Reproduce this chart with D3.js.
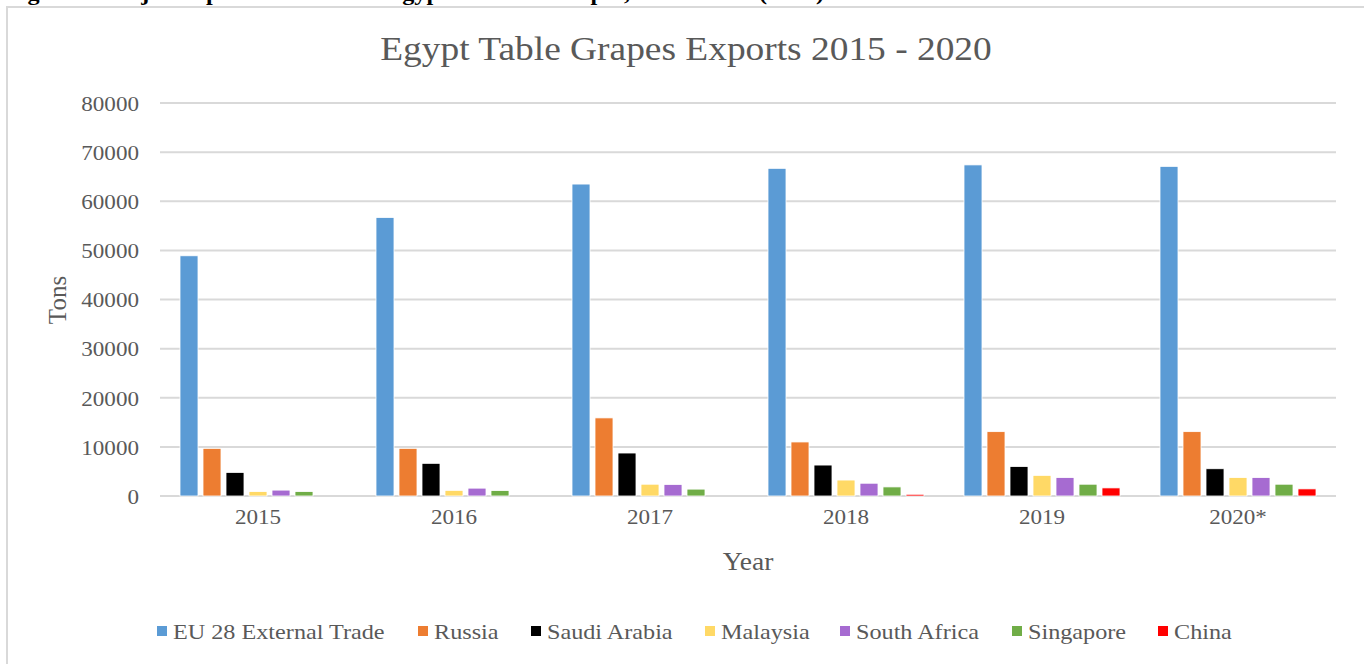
<!doctype html>
<html lang="en">
    <head>
        <meta charset="utf-8">
        <title>Egypt Table Grapes Exports</title>
        <script src="https://cdn.jsdelivr.net/npm/d3@7"></script>
        <style>
            body { margin: 0; background: #fff; }
            text { font-family: "Liberation Serif", "Times New Roman", serif; fill: #595959; }
        </style>
    </head>
    <body>
        <script>
            // data (tons)
            var years = ["2015", "2016", "2017", "2018", "2019", "2020*"];
            var markets = ["EU 28 External Trade", "Russia", "Saudi Arabia", "Malaysia", "South Africa", "Singapore", "China"];
            var colors = ["#5b9bd5", "#ed7d31", "#000000", "#ffd966", "#a66bd1", "#70ad47", "#ff0000"];

            var euTrade     = [48900, 56700, 63500, 66700, 67400, 67100];
            var russia      = [9700, 9700, 15900, 11000, 13100, 13100];
            var saudiArabia = [4800, 6650, 8750, 6300, 6000, 5550];
            var malaysia    = [900, 1150, 2400, 3250, 4200, 3750];
            var southAfrica = [1200, 1600, 2350, 2600, 3750, 3750];
            var singapore   = [900, 1100, 1400, 1850, 2400, 2400];
            var china       = [0, 0, 0, 350, 1650, 1450];
            var yTicks = [0, 10000, 20000, 30000, 40000, 50000, 60000, 70000, 80000];

            var seriesValues = [euTrade, russia, saudiArabia, malaysia, southAfrica, singapore, china];

            var svgW = 1364, svgH = 664;
            var plot = {left: 160, right: 1336, top: 103, bottom: 496};
            var stretch = "scale(1.1,1)"; // the source picture is a bit wider than tall

            var svg = d3.select("body")
                        .append("svg")
                        .attr("width", svgW)
                        .attr("height", svgH);

            // caption of the page, cut by the top edge like in the picture
            svg.append("text")
               .attr("transform", "translate(6,0) " + stretch)
               .style("font-weight", "bold")
               .style("font-size", "22px")
               .style("fill", "#000")
               .text("Figure 3: Major Export Markets for Egyptian Table Grapes, 2015 - 2020 (Tons)");

            // chart frame
            svg.append("rect")
               .attr("x", 7)
               .attr("y", 7)
               .attr("width", 1400)
               .attr("height", 700)
               .attr("fill", "#fff")
               .attr("stroke", "#d9d9d9")
               .attr("stroke-width", 2);

            svg.append("text")
               .attr("transform", "translate(686,60) " + stretch)
               .attr("text-anchor", "middle")
               .style("font-size", "34px")
               .text("Egypt Table Grapes Exports 2015 - 2020");

            var x0 = d3.scaleBand()
                       .domain(years)
                       .range([plot.left, plot.right])
                       .paddingInner(40 / 196)
                       .paddingOuter(20 / 196);

            var x1 = d3.scaleBand()
                       .domain(markets)
                       .range([0, x0.bandwidth()])
                       .paddingInner(5 / 23)
                       .paddingOuter(0);

            var y = d3.scaleLinear()
                      .domain([0, 80000])
                      .range([plot.bottom, plot.top]);

            var color = d3.scaleOrdinal()
                          .domain(markets)
                          .range(colors);

            // gridlines
            svg.append("g")
               .selectAll("line")
               .data(yTicks)
               .enter()
               .append("line")
               .attr("x1", plot.left)
               .attr("x2", plot.right)
               .attr("y1", d => y(d))
               .attr("y2", d => y(d))
               .attr("stroke", "#d9d9d9")
               .attr("stroke-width", 2);

            // y axis labels
            var yAxis = d3.axisLeft(y)
                          .tickValues(yTicks)
                          .tickSize(0)
                          .tickPadding(0)
                          .tickFormat(d3.format("d"));
            var yG = svg.append("g")
                        .attr("transform", "translate(139,0)")
                        .call(yAxis);
            yG.select(".domain").remove();
            yG.selectAll("text")
              .attr("x", 0)
              .attr("dy", "0.35em")
              .attr("transform", stretch)
              .style("font-size", "21px")
              .style("font-family", "Liberation Serif, serif")
              .style("fill", "#595959");

            // x axis labels
            var xAxis = d3.axisBottom(x0)
                          .tickSize(0)
                          .tickPadding(0);
            var xG = svg.append("g")
                        .attr("transform", "translate(0,517)")
                        .call(xAxis);
            xG.select(".domain").remove();
            xG.selectAll("text")
              .attr("y", 0)
              .attr("dy", "0.35em")
              .attr("transform", stretch)
              .style("font-size", "21px")
              .style("font-family", "Liberation Serif, serif")
              .style("fill", "#595959");

            // bars
            var groups = svg.append("g")
                            .selectAll("g")
                            .data(years)
                            .enter()
                            .append("g")
                            .attr("transform", d => "translate(" + x0(d) + ",0)");

            groups.selectAll("rect")
                  .data((d, i) => markets.map((m, j) => ({market: m, value: seriesValues[j][i]})))
                  .enter()
                  .append("rect")
                  .attr("x", d => x1(d.market))
                  .attr("width", x1.bandwidth())
                  .attr("y", d => y(d.value))
                  .attr("height", d => y(0) - y(d.value))
                  .attr("fill", d => color(d.market))
                  .attr("stroke", "#fff")
                  .attr("stroke-width", 0.8);

            // axis titles
            svg.append("text")
               .attr("transform", "translate(" + (plot.left + plot.right) / 2 + ",570) " + stretch)
               .attr("text-anchor", "middle")
               .style("font-size", "25px")
               .text("Year");

            svg.append("text")
               .attr("transform", "translate(66,300) rotate(-90)")
               .attr("text-anchor", "middle")
               .style("font-size", "25px")
               .text("Tons");

            // legend
            var legendX = [157, 418, 531, 705, 840, 1012, 1158];
            var legend = svg.append("g")
                            .selectAll("g")
                            .data(markets)
                            .enter()
                            .append("g")
                            .attr("transform", (d, i) => "translate(" + legendX[i] + ",631)");
            legend.append("rect")
                  .attr("x", 0)
                  .attr("y", -5)
                  .attr("width", 10)
                  .attr("height", 10)
                  .attr("fill", d => color(d));
            legend.append("text")
                  .attr("transform", "translate(16,0) " + stretch)
                  .attr("dy", "0.35em")
                  .style("font-size", "22px")
                  .text(d => d);
        </script>
    </body>
</html>
